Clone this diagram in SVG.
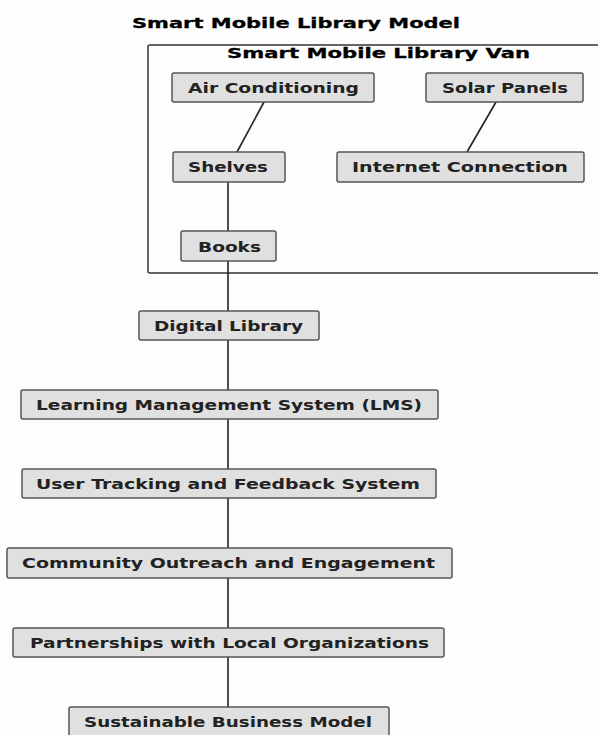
<svg xmlns="http://www.w3.org/2000/svg" width="598" height="735" viewBox="0 0 598 735">
<style>
.bg{fill:#fdfdfd}
.box{fill:#e0e0e0;stroke:#555;stroke-width:1.5}
.cont{fill:none;stroke:#333;stroke-width:1.5}
.t{font-family:"DejaVu Sans",sans-serif;font-weight:bold;font-size:14.5px;fill:#222}
.h{font-family:"DejaVu Sans",sans-serif;font-weight:bold;font-size:14.5px;fill:#000;stroke:#000;stroke-width:0.3}
.c{stroke:#222;stroke-width:1.6;fill:none}
</style>
<rect class="bg" x="0" y="0" width="598" height="735"/>
<text class="h" x="132" y="27.5" textLength="328" lengthAdjust="spacingAndGlyphs">Smart Mobile Library Model</text>
<g id="van">
<rect class="cont" x="148" y="45" width="460" height="228" rx="2"/>
<text class="h" x="227" y="57.5" textLength="303" lengthAdjust="spacingAndGlyphs">Smart Mobile Library Van</text>
</g>
<g id="connectors">
<line class="c" x1="264" y1="102" x2="237" y2="152"/>
<line class="c" x1="496" y1="102" x2="467" y2="152"/>
<line class="c" x1="228" y1="182" x2="228" y2="231"/>
<line class="c" x1="228" y1="261" x2="228" y2="311"/>
<line class="c" x1="228" y1="340" x2="228" y2="390"/>
<line class="c" x1="228" y1="419" x2="228" y2="469"/>
<line class="c" x1="228" y1="498" x2="228" y2="548"/>
<line class="c" x1="228" y1="578" x2="228" y2="628"/>
<line class="c" x1="228" y1="657" x2="228" y2="707"/>
</g>
<g id="air-conditioning">
<rect class="box" x="172" y="73" width="202" height="29" rx="2"/>
<text class="t" x="188" y="92.5" textLength="171" lengthAdjust="spacingAndGlyphs">Air Conditioning</text>
</g>
<g id="solar-panels">
<rect class="box" x="426" y="73" width="157" height="29" rx="2"/>
<text class="t" x="442" y="92.5" textLength="126" lengthAdjust="spacingAndGlyphs">Solar Panels</text>
</g>
<g id="shelves">
<rect class="box" x="173" y="152" width="112" height="30" rx="2"/>
<text class="t" x="188" y="171.5" textLength="80" lengthAdjust="spacingAndGlyphs">Shelves</text>
</g>
<g id="internet-connection">
<rect class="box" x="337" y="152" width="247" height="30" rx="2"/>
<text class="t" x="352" y="171.5" textLength="216" lengthAdjust="spacingAndGlyphs">Internet Connection</text>
</g>
<g id="books">
<rect class="box" x="181" y="231" width="95" height="30" rx="2"/>
<text class="t" x="198" y="251.5" textLength="63" lengthAdjust="spacingAndGlyphs">Books</text>
</g>
<g id="digital-library">
<rect class="box" x="139" y="311" width="180" height="29" rx="2"/>
<text class="t" x="154" y="330.5" textLength="149" lengthAdjust="spacingAndGlyphs">Digital Library</text>
</g>
<g id="lms">
<rect class="box" x="21" y="390" width="417" height="29" rx="2"/>
<text class="t" x="36" y="409.5" textLength="386" lengthAdjust="spacingAndGlyphs">Learning Management System (LMS)</text>
</g>
<g id="user-tracking">
<rect class="box" x="22" y="469" width="414" height="29" rx="2"/>
<text class="t" x="36" y="488.5" textLength="384" lengthAdjust="spacingAndGlyphs">User Tracking and Feedback System</text>
</g>
<g id="community">
<rect class="box" x="7" y="548" width="445" height="30" rx="2"/>
<text class="t" x="22" y="567.5" textLength="413" lengthAdjust="spacingAndGlyphs">Community Outreach and Engagement</text>
</g>
<g id="partnerships">
<rect class="box" x="13" y="628" width="431" height="29" rx="2"/>
<text class="t" x="30" y="647.5" textLength="399" lengthAdjust="spacingAndGlyphs">Partnerships with Local Organizations</text>
</g>
<g id="sustainable">
<rect class="box" x="69" y="707" width="320" height="30" rx="2"/>
<text class="t" x="84" y="726.5" textLength="288" lengthAdjust="spacingAndGlyphs">Sustainable Business Model</text>
</g>
</svg>
